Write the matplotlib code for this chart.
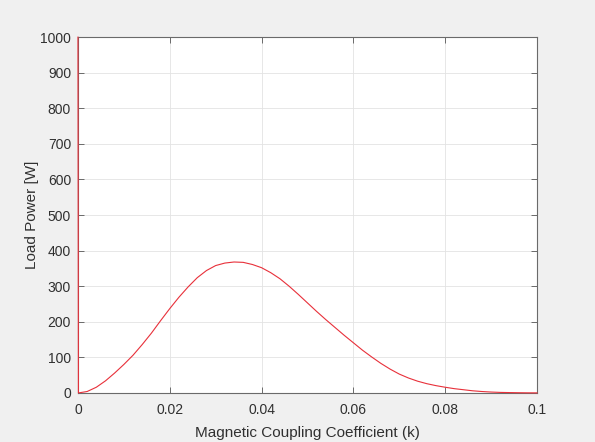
import matplotlib
matplotlib.use("Agg")
import matplotlib.pyplot as plt

k_values = [0.0, 0.0001, 0.002, 0.004, 0.006, 0.008, 0.010, 0.012, 0.014, 0.016,
            0.018, 0.020, 0.022, 0.024, 0.026, 0.028, 0.030, 0.032, 0.034, 0.036,
            0.038, 0.040, 0.042, 0.044, 0.046, 0.048, 0.050, 0.052, 0.054, 0.056,
            0.058, 0.060, 0.062, 0.064, 0.066, 0.068, 0.070, 0.072, 0.074, 0.076,
            0.078, 0.080, 0.082, 0.084, 0.086, 0.088, 0.090, 0.092, 0.094, 0.096,
            0.098, 0.100]
power_w = [1000.0, 0.05, 4, 16, 34, 56, 80, 106, 136, 168,
           203, 237, 269, 298, 324, 344, 358, 365, 368, 367,
           361, 352, 338, 321, 300, 277, 253, 229, 206, 184,
           162, 141, 120, 101, 83, 67, 53, 42, 33, 26,
           20.5, 16, 12, 9, 6, 4, 2.5, 1.5, 1.0, 0.6,
           0.3, 0.2]

x_ticks = [0, 0.02, 0.04, 0.06, 0.08, 0.1]
x_tick_labels = ["0", "0.02", "0.04", "0.06", "0.08", "0.1"]
y_ticks = [0, 100, 200, 300, 400, 500, 600, 700, 800, 900, 1000]

plt.rcParams['font.family'] = ['Liberation Sans', 'DejaVu Sans']
text_color = '#303030'

fig = plt.figure(figsize=(5.95, 4.42), dpi=100, facecolor='#f0f0f0')
ax = fig.add_axes([0.131, 0.111, 0.7715, 0.805])
ax.set_facecolor('white')

ax.plot(k_values, power_w, color='#e8303a', linewidth=0.8, zorder=3, clip_on=False)

ax.set_xlim(0, 0.1)
ax.set_ylim(0, 1000)
ax.set_xticks(x_ticks)
ax.set_xticklabels(x_tick_labels)
ax.set_yticks(y_ticks)
ax.grid(True, color='#e3e3e3', linewidth=0.6)
ax.set_axisbelow(True)

for s in ax.spines.values():
    s.set_color('#6a6a6a')
    s.set_linewidth(0.8)

ax.tick_params(direction='in', length=4, width=0.7, color='#6a6a6a',
               top=True, right=True, labelsize=10, labelcolor=text_color, pad=5)
ax.tick_params(axis='x', pad=7)

ax.set_xlabel('Magnetic Coupling Coefficient (k)', fontsize=11, color=text_color, labelpad=7)
ax.set_ylabel('Load Power [W]', fontsize=11, color=text_color, labelpad=1)

fig.savefig('out.png', dpi=100, facecolor=fig.get_facecolor())
